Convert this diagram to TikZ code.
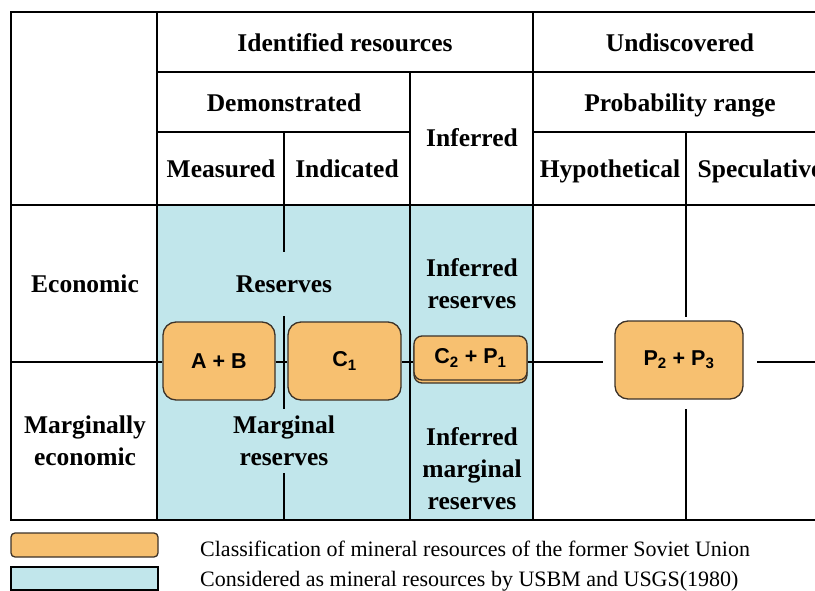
\documentclass[tikz,border=0pt]{standalone}
\usepackage{fontspec}
\setmainfont{Liberation Serif}
\newfontfamily\boxfont{Liberation Sans}
\definecolor{usbm}{RGB}{193,230,235}
\definecolor{sov}{RGB}{247,192,112}
\definecolor{sovedge}{RGB}{60,50,40}

\begin{document}
\begin{tikzpicture}[x=1pt,y=-1pt,
  grid/.style={line width=2.9pt},
  head/.style={font=\fontsize{25.5}{32}\selectfont\bfseries, align=center, inner sep=0pt},
  headline/.style={head, anchor=base},
  classbox/.style={draw=sovedge, line width=1.3pt, fill=sov, rounded corners=13pt,
    font=\boxfont\bfseries\fontsize{21.5}{24}\selectfont, inner sep=0pt},
  legendtext/.style={font=\fontsize{22}{26}\selectfont, anchor=base west, inner sep=0pt}]

\useasboundingbox (0,0) rectangle (815,591);
\clip (0,0) rectangle (815,591);

% area counted as resources by USBM/USGS
\fill[usbm] (157,205) rectangle (533,520);

% table frame and rules
\draw[grid, line join=miter] (815,12) -- (11,12) -- (11,520) -- (815,520);
\draw[grid] (157,12) -- (157,520);
\draw[grid] (533,12) -- (533,520);
\draw[grid] (157,72) -- (815,72);
\draw[grid] (410,72) -- (410,520);
\draw[grid] (157,132) -- (410,132);
\draw[grid] (533,132) -- (815,132);
\draw[grid] (11,205) -- (815,205);
\draw[grid] (284,132) -- (284,252);
\draw[grid] (284,316) -- (284,409);
\draw[grid] (284,473) -- (284,520);
\draw[grid] (686,132) -- (686,317);
\draw[grid] (686,409) -- (686,520);

% classification boxes of the former Soviet Union
\node[classbox, minimum width=112pt, minimum height=78pt] (ab) at (219,361) {A + B};
\node[classbox, minimum width=113pt, minimum height=78pt] (c1) at (344.5,361) {C\textsubscript{1}};
\node[classbox, rounded corners=8pt, minimum width=113pt, minimum height=44pt] (c2s) at (470.5,361) {};
\node[classbox, rounded corners=8pt, minimum width=113pt, minimum height=44pt] (c2) at (470.5,358) {C\textsubscript{2} + P\textsubscript{1}};
\node[classbox, minimum width=128pt, minimum height=78pt] (p23) at (679,360) {P\textsubscript{2} + P\textsubscript{3}};

% horizontal rule between economic and marginal rows
\coordinate (ll) at (11,362);
\coordinate (gl) at (603,362);
\coordinate (gr) at (757,362);
\coordinate (rr) at (815,362);
\draw[grid] (ll) -- (ab.west |- ll);
\draw[grid] (ab.east |- ll) -- (c1.west |- ll);
\draw[grid] (c1.east |- ll) -- (c2.west |- ll);
\draw[grid] (c2.east |- ll) -- (gl);
\draw[grid] (gr) -- (rr);

% headings
\node[headline] (idr) at (345,52) {Identified resources};
\node[headline] (und) at (680,52) {Undiscovered};
\node[headline] (dem) at (284,112) {Demonstrated};
\node[headline] (prob) at (680,112) {Probability range};
\node[headline] (inf) at (472,147) {Inferred};
\node[headline] (mea) at (221,178) {Measured};
\node[headline] (ind) at (347,178) {Indicated};
\node[headline] (hyp) at (610,178) {Hypothetical};
\node[headline] (spe) at (760,178) {Speculative};

% row and cell labels
\node[headline] (eco) at (85,293) {Economic};
\node[head] (meco) at (85,441) {Marginally\\economic};
\node[headline] (res) at (284,293) {Reserves};
\node[head] (ires) at (472,284) {Inferred\\reserves};
\node[head] (mres) at (284,441) {Marginal\\reserves};
\node[head] (imres) at (472,469) {Inferred\\marginal\\reserves};

% legend
\draw[draw=sovedge, line width=1.3pt, fill=sov, rounded corners=4pt] (11,533) rectangle (158,557);
\draw[line width=2pt, fill=usbm] (11,567) rectangle (158,589.5);
\node[legendtext] (l1) at (200,556) {Classification of mineral resources of the former Soviet Union};
\node[legendtext] (l2) at (200,586) {Considered as mineral resources by USBM and USGS(1980)};
\end{tikzpicture}
\end{document}
